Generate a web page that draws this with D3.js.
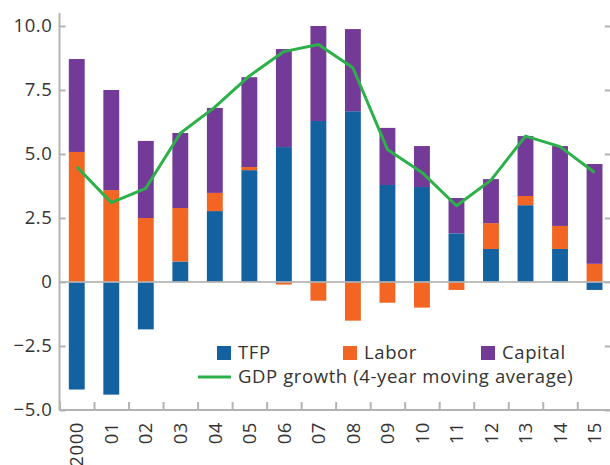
<!DOCTYPE html>
<html>
<head>
<meta charset="utf-8">
<script src="https://cdn.jsdelivr.net/npm/d3@7"></script>
<style>
  body { margin: 0; background: #fff; }
  svg { display: block; font-family: "Open Sans", sans-serif; }
  svg text { letter-spacing: 0.6px; }
</style>
</head>
<body>
<svg id="chart" width="610" height="465"></svg>
<script>
// data
const years = ["2000", "01", "02", "03", "04", "05", "06", "07", "08", "09", "10", "11", "12", "13", "14", "15"];
const tfp     = [-4.2, -4.4, -1.85, 0.8, 2.77, 4.37, 5.27, 6.29, 6.67, 3.79, 3.71, 1.9, 1.29, 3.0, 1.29, -0.31];
const labor   = [5.08, 3.59, 2.5, 2.09, 0.71, 0.12, -0.1, -0.73, -1.51, -0.81, -1.0, -0.31, 1.01, 0.36, 0.9, 0.71];
const capital = [3.63, 3.91, 3.01, 2.93, 3.32, 3.51, 3.83, 3.71, 3.21, 2.23, 1.6, 1.38, 1.72, 2.34, 3.12, 3.9];
const gdp     = [4.5, 3.1, 3.66, 5.81, 6.83, 8.05, 9.0, 9.28, 8.37, 5.18, 4.28, 2.98, 3.98, 5.7, 5.29, 4.28];
const yTicks = [-5, -2.5, 0, 2.5, 5, 7.5, 10];

const series = [
  { key: "TFP", color: "#1461a0" },
  { key: "Labor", color: "#f26522" },
  { key: "Capital", color: "#733b97" }
];

const svg = d3.select("#chart");
const plotLeft = 59.5, plotRight = 611.8, plotTop = 26, plotBottom = 410;
const font = "'Open Sans', sans-serif";
const fontSize = 18.5;

const x = d3.scaleBand().domain(years).range([plotLeft, plotRight])
  .paddingInner(0.54).paddingOuter(0.27);
const xEdges = d3.scaleLinear().domain([0, years.length]).range([plotLeft, plotRight]);
const y = d3.scaleLinear().domain([-5, 10]).range([plotBottom, plotTop]);

const rows = years.map((yr, i) => ({ year: yr, TFP: tfp[i], Labor: labor[i], Capital: capital[i] }));
const stacked = d3.stack().keys(series.map(s => s.key)).offset(d3.stackOffsetDiverging)(rows);

// bars
svg.append("g").selectAll("g")
  .data(stacked)
  .join("g")
  .attr("fill", (d, i) => series[i].color)
  .selectAll("rect")
  .data(d => d)
  .join("rect")
  .attr("x", d => x(d.data.year))
  .attr("width", x.bandwidth())
  .attr("y", d => y(Math.max(d[0], d[1])))
  .attr("height", d => Math.abs(y(d[0]) - y(d[1])));

const axisColor = "#b3b3b3";

// zero line over the bars
svg.append("line")
  .attr("x1", plotLeft).attr("x2", plotRight)
  .attr("y1", y(0)).attr("y2", y(0))
  .attr("stroke", axisColor).attr("stroke-opacity", 0.85).attr("stroke-width", 2);

// left axis
const yAxis = svg.append("g")
  .attr("transform", `translate(${plotLeft},0)`)
  .call(d3.axisLeft(y).tickValues(yTicks).tickSize(-6).tickPadding(7)
    .tickFormat(d => d === 0 ? "0" : d3.format(".1f")(d).replace(/[-\u2212]/, "\u2212")));
yAxis.select(".domain").attr("d", `M0,13V${plotBottom}`);

// right axis (ticks only)
const yAxisR = svg.append("g")
  .attr("transform", `translate(${plotRight},0)`)
  .call(d3.axisRight(y).tickValues(yTicks).tickSize(-7).tickFormat(""));
yAxisR.select(".domain").remove();

// bottom axis: ticks between categories
const xAxis = svg.append("g")
  .attr("transform", `translate(0,${plotBottom})`)
  .call(d3.axisBottom(xEdges).ticks(years.length).tickSize(-8).tickFormat(""));
xAxis.select(".domain").attr("d", `M${plotLeft},0H${plotRight}`);

// category labels, rotated
svg.append("g").selectAll("text")
  .data(years)
  .join("text")
  .attr("transform", d => `translate(${x(d) + x.bandwidth() / 2},422) rotate(-90)`)
  .attr("text-anchor", "end")
  .attr("dy", "0.36em")
  .attr("font-size", fontSize)
  .attr("fill", "#333")
  .text(d => d);

[yAxis, yAxisR, xAxis].forEach(g => {
  g.selectAll(".domain, line").attr("stroke", axisColor).attr("stroke-width", 2);
  g.selectAll("text").attr("font-size", fontSize).attr("fill", "#333").attr("font-family", font);
});

// GDP moving average line
const line = d3.line()
  .x((d, i) => x(years[i]) + x.bandwidth() / 2)
  .y(d => y(d));
svg.append("path")
  .datum(gdp)
  .attr("fill", "none")
  .attr("stroke", "#2cb14a")
  .attr("stroke-width", 3)
  .attr("stroke-linejoin", "round")
  .attr("d", line);

// legend
const legendX = [217, 343, 481];
const lg = svg.append("g");
series.forEach((s, i) => {
  lg.append("rect").attr("x", legendX[i]).attr("y", 346).attr("width", 14).attr("height", 14).attr("fill", s.color);
  lg.append("text").attr("x", legendX[i] + 21).attr("y", 359).attr("font-size", fontSize).attr("fill", "#333").text(s.key);
});
lg.append("line").attr("x1", 198).attr("x2", 231).attr("y1", 377).attr("y2", 377)
  .attr("stroke", "#2cb14a").attr("stroke-width", 3);
lg.append("text").attr("x", 238).attr("y", 383).attr("font-size", fontSize).attr("fill", "#333")
  .text("GDP growth (4-year moving average)");
</script>
</body>
</html>
